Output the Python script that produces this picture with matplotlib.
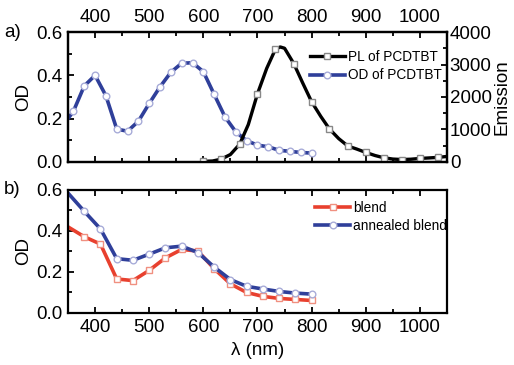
import matplotlib
matplotlib.use("Agg")
import matplotlib.pyplot as plt
from matplotlib.ticker import MultipleLocator

plt.rcParams['font.family'] = ['Liberation Sans', 'DejaVu Sans']

# panel a) absorption of PCDTBT (left axis) and PL (right axis)
od_wl = [350, 360, 380, 400, 420, 440, 460, 480, 500, 520, 540, 560, 580,
         600, 620, 640, 660, 680, 700, 720, 740, 760, 780, 800]
od_pcdtbt = [0.200, 0.234, 0.351, 0.400, 0.306, 0.152, 0.142, 0.188, 0.270,
             0.347, 0.414, 0.456, 0.458, 0.417, 0.312, 0.208, 0.139, 0.098,
             0.078, 0.070, 0.054, 0.049, 0.044, 0.041]

pl_wl = [600, 617, 633, 650, 667, 683, 700, 717, 733, 742, 750, 767, 783, 800, 817,
         833, 850, 867, 883, 900, 917, 933, 950, 967, 983, 1000, 1017, 1033, 1050]
pl_pcdtbt = [20, 30, 87, 230, 545, 1150, 2100, 2880, 3466, 3540, 3500, 3030, 2450,
             1853, 1400, 1014, 720, 490, 400, 294, 200, 131, 90, 76, 85, 109,
             125, 142, 170]
pl_marks = [0, 2, 4, 6, 8, 11, 13, 15, 17, 19, 21, 23, 25, 27]

# panel b) blend films
bl_wl = [350, 380, 410, 440, 470, 500, 530, 560, 590, 620, 650, 680, 710, 740, 770, 800]
od_blend = [0.420, 0.372, 0.336, 0.166, 0.158, 0.208, 0.269, 0.310, 0.302,
            0.216, 0.142, 0.100, 0.081, 0.071, 0.066, 0.061]
od_annealed = [0.585, 0.496, 0.410, 0.265, 0.257, 0.287, 0.318, 0.326, 0.295,
               0.224, 0.163, 0.130, 0.117, 0.105, 0.097, 0.092]

BLUE = "#2f3f9a"
RED = "#e8402e"
FS = 13.5

fig = plt.figure(figsize=(5.14, 3.65), dpi=100)
ax1 = fig.add_axes([0.1323, 0.5562, 0.7373, 0.3561])
ax2 = fig.add_axes([0.1323, 0.1425, 0.7373, 0.3370])
ax1r = ax1.twinx()

l_od, = ax1.plot(od_wl, od_pcdtbt, color=BLUE, lw=2.6, marker="o", ms=4.8,
                 mfc="white", mec="#a8acd8", mew=1.0,
                 markevery=list(range(1, len(od_wl))), label="OD of PCDTBT")
l_pl, = ax1r.plot(pl_wl, pl_pcdtbt, color="black", lw=2.4, marker="s", ms=4.6,
                  mfc="white", mec="#888888", mew=1.0,
                  markevery=pl_marks, label="PL of PCDTBT")

ax2.plot(bl_wl, od_blend, color=RED, lw=2.6, marker="s", ms=4.6,
         mfc="white", mec="#f09080", mew=1.0,
         markevery=list(range(1, len(bl_wl))), label="blend")
ax2.plot(bl_wl, od_annealed, color=BLUE, lw=2.6, marker="o", ms=4.8,
         mfc="white", mec="#a8acd8", mew=1.0,
         markevery=list(range(1, len(bl_wl))), label="annealed blend")

for ax in (ax1, ax2):
    ax.set_xlim(350, 1050)
    ax.set_ylim(0, 0.6)
    ax.xaxis.set_major_locator(MultipleLocator(100))
    ax.xaxis.set_minor_locator(MultipleLocator(50))
    ax.yaxis.set_minor_locator(MultipleLocator(0.1))
    ax.set_yticks([0.0, 0.2, 0.4, 0.6])
    ax.set_yticklabels(["0.0", "0.2", "0.4", "0.6"])
    for s in ax.spines.values():
        s.set_linewidth(1.6)
    ax.tick_params(which="both", direction="in", width=1.3, labelsize=FS, pad=4)
    ax.tick_params(which="major", length=4.5)
    ax.tick_params(which="minor", length=3)
    ax.set_ylabel("OD", fontsize=FS, labelpad=3)
    ax.tick_params(axis="y", which="both", right=False)

ax1.tick_params(axis="x", which="both", top=True, bottom=True,
                labeltop=True, labelbottom=False)
ax2.tick_params(axis="x", which="both", top=True, bottom=True,
                labeltop=False, labelbottom=True)

ax1r.set_ylim(0, 4000)
ax1r.yaxis.set_major_locator(MultipleLocator(1000))
ax1r.yaxis.set_minor_locator(MultipleLocator(500))
ax1r.tick_params(which="both", direction="in", width=1.3, labelsize=FS, pad=2)
ax1r.tick_params(which="major", length=4.5)
ax1r.tick_params(which="minor", length=3)
ax1r.set_ylabel("Emission", fontsize=FS, labelpad=1)
for s in ax1r.spines.values():
    s.set_linewidth(1.6)

ax2.set_xlabel("\u03bb (nm)", fontsize=FS, labelpad=5)

fig.text(0.008, 0.9123, "a)", fontsize=FS, va="center", ha="left")
fig.text(0.008, 0.4795, "b)", fontsize=FS, va="center", ha="left")

leg_kw = dict(frameon=False, fontsize=9.8, handlelength=2.6, handletextpad=0.2,
              labelspacing=0.3, borderpad=0, borderaxespad=0, loc="upper left")
ax1r.legend([l_pl, l_od], ["PL of PCDTBT", "OD of PCDTBT"],
            bbox_to_anchor=(0.638, 0.86), **leg_kw)
ax2.legend(bbox_to_anchor=(0.652, 0.91), **leg_kw)

fig.savefig("out.png", dpi=100)
